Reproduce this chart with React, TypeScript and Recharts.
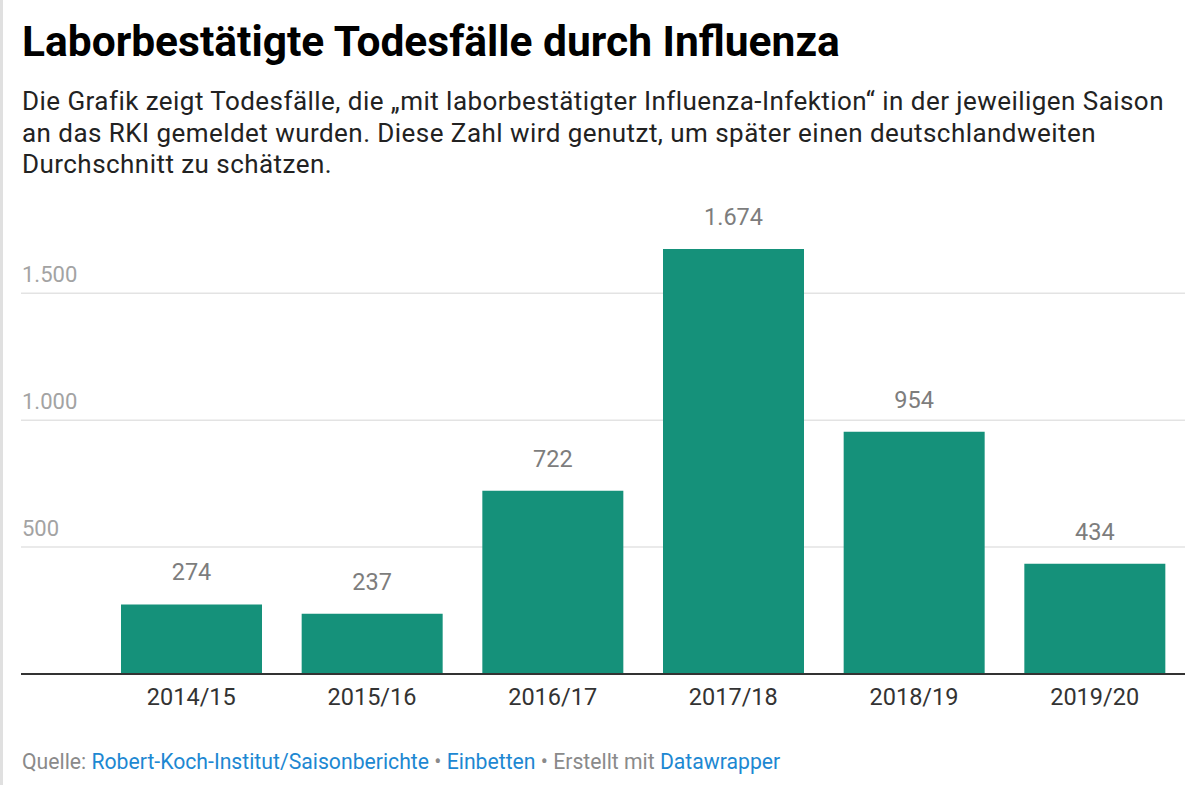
import React from "react";
import { BarChart, Bar, XAxis, YAxis, CartesianGrid, ReferenceLine, LabelList } from "recharts";

// Saisons und gemeldete laborbestätigte Todesfälle
const seasons: string[] = ["2014/15", "2015/16", "2016/17", "2017/18", "2018/19", "2019/20"];
const deaths: number[] = [274, 237, 722, 1674, 954, 434];
const gridValues: number[] = [500, 1000, 1500];

const data = seasons.map((season, i) => ({ season, deaths: deaths[i] }));

const FONT = "Roboto, 'Noto Sans', Arial, sans-serif";
const BAR_COLOR = "#15917a";

// German thousands separator: 1674 -> "1.674"
const fmt = (v: number): string => {
  const s = String(Math.round(v));
  return s.replace(/\B(?=(\d{3})+(?!\d))/g, ".");
};

const XTick = (props: any) => {
  const { x, y, payload } = props;
  return (
    <text x={x} y={y + 31} fill="#333333" fontSize={23.5} fontFamily={FONT} textAnchor="middle">
      {payload.value}
    </text>
  );
};

const ValueLabel = (props: any) => {
  const { x, y, width, value } = props;
  return (
    <text x={x + width / 2} y={y - 24} fill="#7d7d7d" fontSize={23.5} fontFamily={FONT} textAnchor="middle">
      {fmt(value)}
    </text>
  );
};

// Gridline label sitting above the line, left-aligned at the plot's left edge
const gridLabel = (value: number) => (props: any) => {
  const vb = props.viewBox || {};
  return (
    <text x={vb.x + 1} y={vb.y - 11} fill="#a3a3a3" fontSize={22} fontFamily={FONT} textAnchor="start">
      {fmt(value)}
    </text>
  );
};

export default function App() {
  return (
    <div
      style={{
        position: "absolute",
        left: 0,
        top: 0,
        width: 1200,
        height: 785,
        background: "#ffffff",
        borderLeft: "3px solid #e0e0e0",
        boxSizing: "border-box",
        fontFamily: FONT,
        overflow: "hidden",
      }}
    >
      <div
        style={{
          position: "absolute",
          left: 19,
          top: 19,
          fontSize: 42.5,
          fontWeight: 700,
          color: "#000000",
          lineHeight: "46px",
          whiteSpace: "nowrap",
        }}
      >
        Laborbestätigte Todesfälle durch Influenza
      </div>
      <div
        style={{
          position: "absolute",
          left: 19,
          top: 86,
          fontSize: 26,
          letterSpacing: 0.45,
          color: "#222222",
          lineHeight: "31.5px",
          whiteSpace: "nowrap",
        }}
      >
        Die Grafik zeigt Todesfälle, die „mit laborbestätigter Influenza-Infektion“ in der jeweiligen Saison
        <br />
        an das RKI gemeldet wurden. Diese Zahl wird genutzt, um später einen deutschlandweiten
        <br />
        Durchschnitt zu schätzen.
      </div>

      <div style={{ position: "absolute", left: -3, top: 0 }}>
        <BarChart
          width={1200}
          height={740}
          data={data}
          margin={{ top: 242.5, right: 15, bottom: 16, left: 21 }}
          barCategoryGap={20}
        >
          <YAxis hide domain={[0, 1700]} />
          <CartesianGrid
            vertical={false}
            horizontalValues={gridValues}
            syncWithTicks={false}
            stroke="#e3e3e3"
            strokeWidth={1.5}
          />
          <XAxis
            dataKey="season"
            height={50}
            padding={{ left: 80, right: 0 }}
            axisLine={{ stroke: "#333333", strokeWidth: 2 }}
            tickLine={false}
            tickSize={0}
            tickMargin={0}
            tick={<XTick />}
            interval={0}
          />
          {gridValues.map((v) => (
            <ReferenceLine key={v} y={v} stroke="none" label={gridLabel(v)} />
          ))}
          <Bar dataKey="deaths" fill={BAR_COLOR} isAnimationActive={false}>
            <LabelList dataKey="deaths" content={<ValueLabel />} />
          </Bar>
        </BarChart>
      </div>

      <div
        style={{
          position: "absolute",
          left: 19,
          top: 750,
          fontSize: 21.2,
          lineHeight: "24px",
          color: "#8a8a8a",
          whiteSpace: "nowrap",
        }}
      >
        Quelle: <span style={{ color: "#1d88d2" }}>Robert-Koch-Institut/Saisonberichte</span> •{" "}
        <span style={{ color: "#1d88d2" }}>Einbetten</span> • Erstellt mit{" "}
        <span style={{ color: "#1d88d2" }}>Datawrapper</span>
      </div>
    </div>
  );
}
